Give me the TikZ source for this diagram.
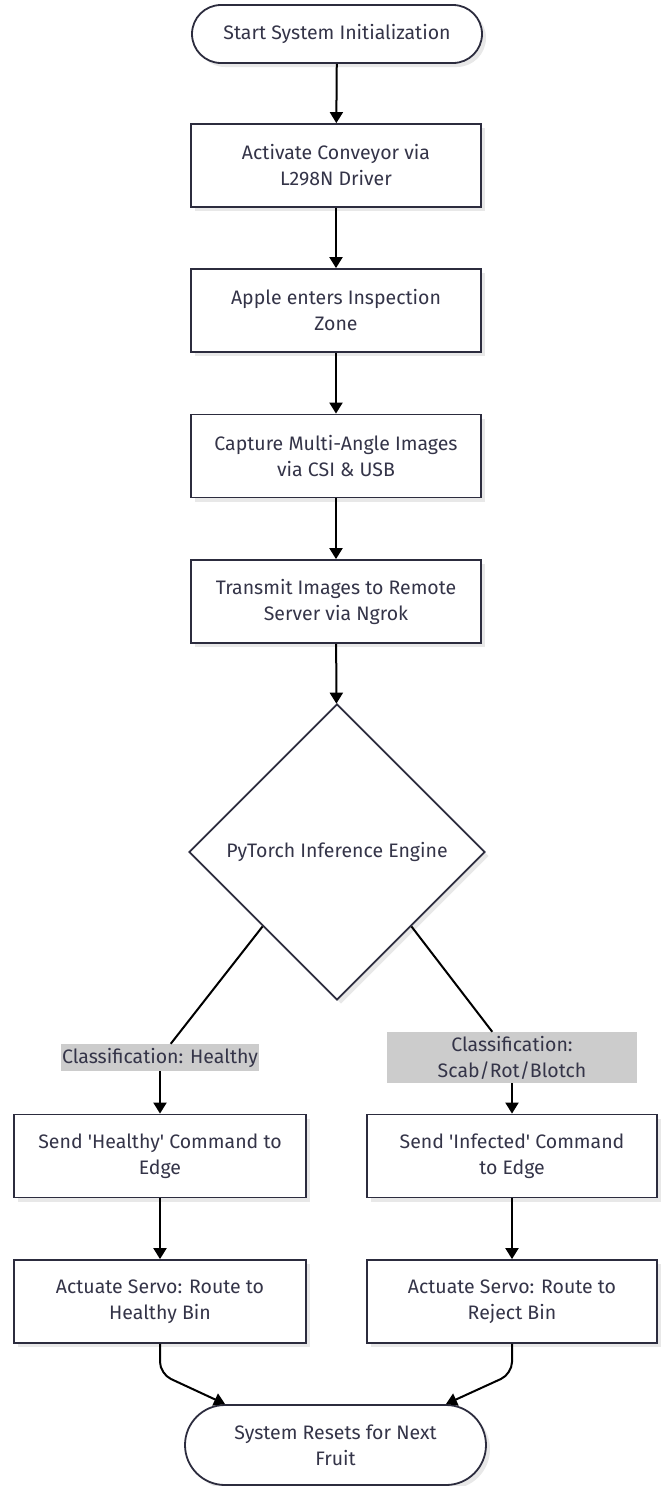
\documentclass[tikz,border=0pt]{standalone}
\usepackage{fontspec}
\setmainfont{Fira Sans}
\usetikzlibrary{shapes.geometric,arrows.meta,shadows,calc}
\definecolor{ink}{RGB}{52,52,72}
\definecolor{edgec}{RGB}{44,44,62}
\definecolor{lblbg}{RGB}{204,204,204}
\definecolor{shad}{RGB}{232,232,232}
\begin{document}
\begin{tikzpicture}[x=1pt,y=-1pt,
  font=\fontsize{19.5}{26}\selectfont,
  base/.style={draw=edgec, line width=1.8pt, fill=white, text=ink, align=center, inner sep=0pt,
    drop shadow={shadow xshift=4pt,shadow yshift=-4pt,fill=shad,opacity=1}},
  proc/.style={base, rectangle, minimum width=290pt, minimum height=83pt},
  term/.style={base, rectangle, rounded corners=#1},
  dec/.style={base, diamond, minimum width=296pt, minimum height=296pt, aspect=1},
  lbl/.style={fill=lblbg, text=ink, align=center, inner sep=0pt},
  arr/.style={-{Triangle[width=13pt,length=11pt]}, line width=2pt, black},
  link/.style={line width=2pt, black}
]
\useasboundingbox (0,0) rectangle (665,1486);

\node[term=29pt, minimum width=290pt, minimum height=58pt] (start) at (337,34) {Start System Initialization};
\node[proc] (b1) at (336,165.5) {Activate Conveyor via\\L298N Driver};
\node[proc] (b2) at (336,310.5) {Apple enters Inspection\\Zone};
\node[proc] (b3) at (336,456) {Capture Multi-Angle Images\\via CSI \& USB};
\node[proc] (b4) at (336,601.5) {Transmit Images to Remote\\Server via Ngrok};
\node[dec] (d) at (337,852) {PyTorch Inference Engine};

\node[lbl, minimum width=198pt, minimum height=27pt] (lh) at (160,1057.5) {Classification: Healthy};
\node[lbl, minimum width=250pt, minimum height=51pt] (lr) at (512,1057.5) {Classification:\\Scab/Rot/Blotch};

\node[proc, minimum width=292pt] (h1) at (160,1156) {Send \textquotesingle Healthy\textquotesingle{} Command to\\Edge};
\node[proc, minimum width=292pt] (h2) at (160,1301.5) {Actuate Servo: Route to\\Healthy Bin};
\node[proc] (r1) at (512,1156) {Send \textquotesingle Infected\textquotesingle{} Command\\to Edge};
\node[proc] (r2) at (512,1301.5) {Actuate Servo: Route to\\Reject Bin};

\node[term=40pt, minimum width=301pt, minimum height=80pt] (end) at (335.5,1445) {System Resets for Next\\Fruit};

\coordinate (endL) at ($(end.north west)+(41,0)$);
\coordinate (endR) at ($(end.north east)+(-41,0)$);

\draw[arr] (start) -- (b1);
\draw[arr] (b1) -- (b2);
\draw[arr] (b2) -- (b3);
\draw[arr] (b3) -- (b4);
\draw[arr] (b4) -- (d);

\draw[link] (d.south west) -- (lh);
\draw[arr] (lh) -- (h1);
\draw[link] (d.south east) -- (lr);
\draw[arr] (lr) -- (r1);

\draw[arr] (h1) -- (h2);
\draw[arr] (r1) -- (r2);

\draw[arr, rounded corners=12pt] (h2.south) -- ++(0,30) -- (endL);
\draw[arr, rounded corners=12pt] (r2.south) -- ++(0,30) -- (endR);
\end{tikzpicture}
\end{document}
